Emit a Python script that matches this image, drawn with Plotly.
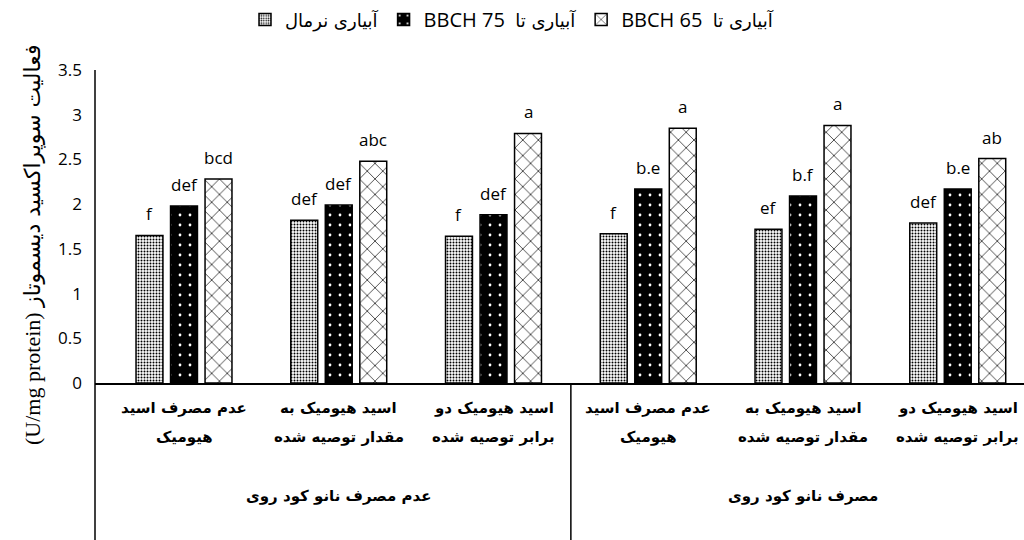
import plotly.graph_objects as go

# ---- data ----
cat_line1 = ["عدم مصرف اسید", "اسید هیومیک به", "اسید هیومیک دو",
             "عدم مصرف اسید", "اسید هیومیک به", "اسید هیومیک دو"]
cat_line2 = ["هیومیک", "مقدار توصیه شده", "برابر توصیه شده",
             "هیومیک", "مقدار توصیه شده", "برابر توصیه شده"]
group_labels = ["عدم مصرف نانو کود روی", "مصرف نانو کود روی"]

series_latin = ["", "BBCH 75", "BBCH 65"]
series_arabic = ["آبیاری نرمال", "آبیاری تا", "آبیاری تا"]
normal = [1.65, 1.82, 1.64, 1.67, 1.72, 1.79]
bbch75 = [1.98, 1.99, 1.88, 2.17, 2.09, 2.17]
bbch65 = [2.28, 2.48, 2.79, 2.85, 2.88, 2.51]
letters_normal = ["f", "def", "f", "f", "ef", "def"]
letters_75 = ["def", "def", "def", "b.e", "b.f", "b.e"]
letters_65 = ["bcd", "abc", "a", "a", "a", "ab"]
y_ticks = [0, 0.5, 1, 1.5, 2, 2.5, 3, 3.5]
y_title_latin = "(U/mg protein)"
y_title_arabic = "فعالیت سوپراکسید دیسموتاز"

x = list(range(len(normal)))

W, H = 1024, 540
ML, MT, MB = 95, 70, 157
plot_h = H - MT - MB

bw = 0.174
offsets = [-0.31, -0.087, 0.136]

lat_font = "Open Sans"
ar_font = "DejaVu Sans"

fig = go.Figure()
patterns = [
    dict(shape=".", fgcolor="black", bgcolor="white", size=3, solidity=0.35, fillmode="replace"),
    dict(shape=".", fgcolor="white", bgcolor="black", size=10, solidity=0.06, fillmode="replace"),
    dict(shape="x", fgcolor="black", bgcolor="white", size=11, solidity=0.12, fillmode="replace"),
]
all_vals = [normal, bbch75, bbch65]
all_letters = [letters_normal, letters_75, letters_65]
for k in range(3):
    lat = series_latin[k]
    name = (lat + "&nbsp;&nbsp;" if lat else "") + \
        f"<span style='font-family:{ar_font};font-size:18px'>{series_arabic[k]}</span>"
    pat = patterns[k]
    fig.add_trace(go.Bar(
        x=x, y=all_vals[k], name=name, width=bw, offset=offsets[k],
        marker=dict(color=pat["bgcolor"], line=dict(color="black", width=1.5), pattern=pat),
        hoverinfo="skip",
    ))
    for i in x:
        fig.add_annotation(x=i + offsets[k] + bw / 2, y=all_vals[k][i], xref="x", yref="y",
                           text=all_letters[k][i], showarrow=False, yanchor="bottom",
                           yshift=8, font=dict(family=lat_font, size=17, color="black"))

x_per_px = 1 / 154.75
x0 = 0 - (184 - ML) * x_per_px
x1 = 0 + (W - 184) * x_per_px

fig.update_layout(
    width=W, height=H,
    margin=dict(l=ML, r=0, t=MT, b=MB),
    plot_bgcolor="white", paper_bgcolor="white",
    barmode="overlay",
    showlegend=True,
    legend=dict(orientation="h", x=(245 - ML) / (W - ML), xanchor="left",
                yref="container", y=1.0, yanchor="top",
                font=dict(family=lat_font, size=20, color="black"),
                traceorder="normal", itemwidth=30),
    xaxis=dict(range=[x0, x1], showticklabels=False, showgrid=False, zeroline=False,
               showline=True, linecolor="black", linewidth=1.5, ticks=""),
    yaxis=dict(range=[0, 3.5], tickvals=y_ticks, ticktext=[f"{v:g}" for v in y_ticks],
               showgrid=False, zeroline=False, showline=False, ticks="",
               ticklabelstandoff=12,
               tickfont=dict(family=lat_font, size=17, color="black")),
)

def py(ypix):
    return (H - MB - ypix) / plot_h

# axis lines extending below the plot
fig.add_shape(type="line", xref="paper", yref="paper", x0=0, x1=0, y0=py(540), y1=1,
              line=dict(color="black", width=1.5))
fig.add_shape(type="line", xref="x", yref="paper", x0=2.5, x1=2.5, y0=py(540), y1=0,
              line=dict(color="black", width=1.5))

cat_size = 15
for i in x:
    fig.add_annotation(x=i, y=py(419), xref="x", yref="paper", text=f"<b>{cat_line1[i]}</b>",
                       showarrow=False, font=dict(family=ar_font, size=cat_size, color="black"))
    fig.add_annotation(x=i, y=py(448), xref="x", yref="paper", text=f"<b>{cat_line2[i]}</b>",
                       showarrow=False, font=dict(family=ar_font, size=cat_size, color="black"))
for g, lab in enumerate(group_labels):
    fig.add_annotation(x=1 + 3 * g, y=py(507), xref="x", yref="paper", text=f"<b>{lab}</b>",
                       showarrow=False, font=dict(family=ar_font, size=cat_size, color="black"))

fig.add_annotation(x=(18 - ML) / (W - ML), y=py(245), xref="paper", yref="paper",
                   text=f"{y_title_latin} <span style='font-family:{ar_font}'>{y_title_arabic}</span>",
                   textangle=-90, showarrow=False,
                   font=dict(family="Liberation Serif", size=22, color="black"))

fig.write_html("out.html", config={"displayModeBar": False},
               post_script="document.body.style.margin='0';")
